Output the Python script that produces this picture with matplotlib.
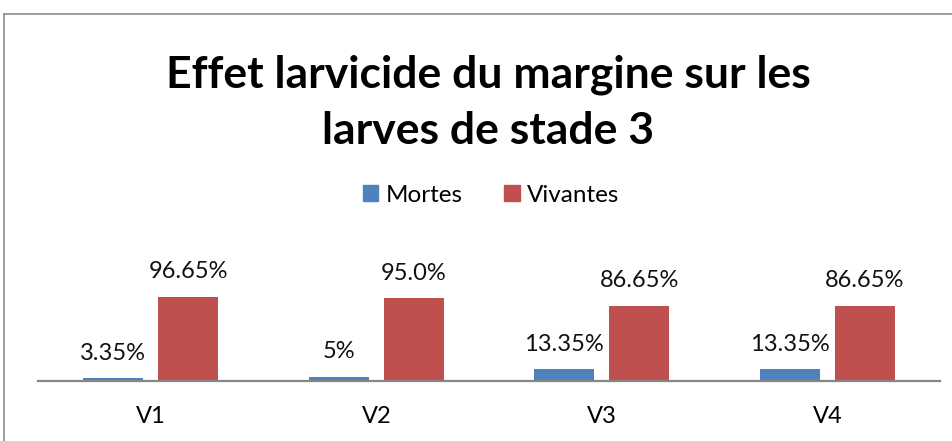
import numpy as np
import matplotlib.pyplot as plt
from matplotlib.lines import Line2D
from matplotlib.patches import Patch

plt.rcParams['font.family'] = ['Lato', 'DejaVu Sans']

# Données
categories = ['V1', 'V2', 'V3', 'V4']
mortes = [3.35, 5.0, 13.35, 13.35]
vivantes = [96.65, 95.0, 86.65, 86.65]
labels_mortes = ['3.35%', '5%', '13.35%', '13.35%']
labels_vivantes = ['96.65%', '95.0%', '86.65%', '86.65%']

W, H = 953, 441
fig = plt.figure(figsize=(W / 100, H / 100), dpi=100)

# Cadre du graphique (haut et gauche)
fig.add_artist(Line2D([4 / W, 1], [1 - 14 / H, 1 - 14 / H], color='#8c8c8c', lw=1.2))
fig.add_artist(Line2D([4 / W, 4 / W], [0, 1 - 14 / H], color='#8c8c8c', lw=1.2))

# Axes placés en pixels
ax = fig.add_axes([38 / W, 60 / H, 902 / W, 104.3 / H])
x = np.arange(len(categories))
w = 0.266
b1 = ax.bar(x - 0.166, mortes, w, color='#4F81BD')
b2 = ax.bar(x + 0.166, vivantes, w, color='#C0504D')

for bars, labs in [(b1, labels_mortes), (b2, labels_vivantes)]:
    for bar, lab in zip(bars, labs):
        ax.annotate(lab, (bar.get_x() + bar.get_width() / 2, bar.get_height()),
                    xytext=(0, 18), textcoords='offset points',
                    ha='center', va='center', fontsize=17, color='#111111')

ax.set_xlim(-0.5, len(categories) - 0.5)
ax.set_ylim(0, 120)
ax.set_xticks(x)
ax.set_xticklabels(categories, fontsize=17)
ax.tick_params(axis='x', length=0, pad=18)
ax.set_yticks([])
for s in ['top', 'right', 'left']:
    ax.spines[s].set_visible(False)
ax.spines['bottom'].set_color('#868686')
ax.spines['bottom'].set_linewidth(1.6)

# Titre
fig.text(488 / W, 1 - 103 / H, 'Effet larvicide du margine sur les\nlarves de stade 3',
         ha='center', va='center', fontsize=32, fontweight='bold', linespacing=1.5)

# Légende
handles = [Patch(color='#4F81BD'), Patch(color='#C0504D')]
fig.legend(handles, ['Mortes', 'Vivantes'], loc='center', bbox_to_anchor=(491 / W, 1 - 195 / H),
           ncol=2, frameon=False, fontsize=17.5, handlelength=0.65, handleheight=0.65,
           handletextpad=0.3, columnspacing=1.7)

fig.savefig('out.png', dpi=100)
